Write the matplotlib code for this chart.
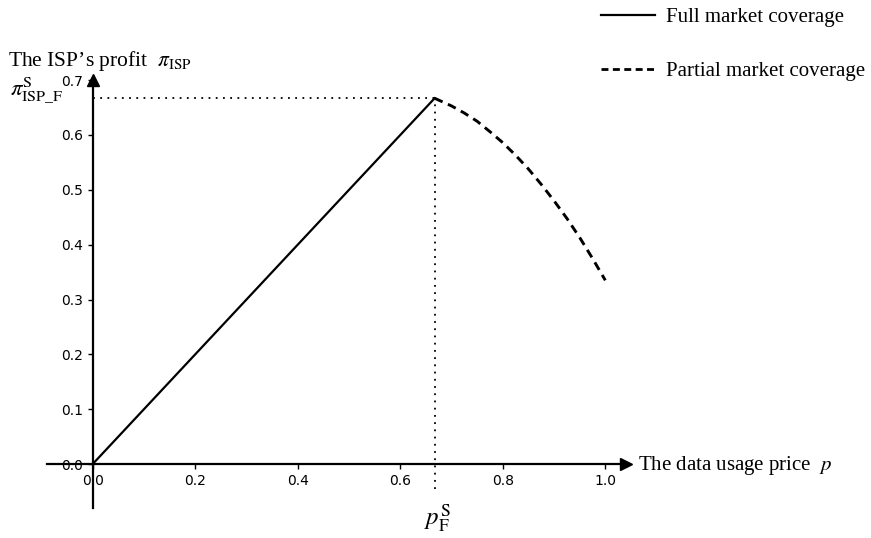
import matplotlib.pyplot as plt
from matplotlib.lines import Line2D

plt.rcParams['mathtext.fontset'] = 'stix'

# full market coverage: profit grows linearly with the price
full_p = [0.0, 0.667]
full_profit = [0.0, 0.667]

# partial market coverage beyond the optimal price
partial_p = [0.667, 0.70, 0.725, 0.75, 0.775, 0.80, 0.825, 0.85,
             0.875, 0.90, 0.925, 0.95, 0.975, 1.00]
partial_profit = [0.667, 0.653, 0.640, 0.625, 0.606, 0.586, 0.563, 0.538,
                  0.510, 0.480, 0.448, 0.413, 0.375, 0.335]

p_opt = 0.667
profit_opt = 0.667

xticks = [0.0, 0.2, 0.4, 0.6, 0.8, 1.0]
yticks = [0.0, 0.1, 0.2, 0.3, 0.4, 0.5, 0.6, 0.7]

serif = 'Liberation Serif'

fig = plt.figure(figsize=(8.71, 5.38), dpi=100)
ax = fig.add_axes([0.0535, 0.056, 0.665, 0.795])

ax.plot(full_p, full_profit, color='black', lw=1.6)
ax.plot(partial_p, partial_profit, color='black', lw=2.1, ls=(0, (3.0, 2.0)))

# guides to the optimum
ax.plot([0, p_opt], [profit_opt, profit_opt], color='black', lw=1.3, ls=(0, (1, 3)))
ax.plot([p_opt, p_opt], [-0.045, profit_opt], color='black', lw=1.3, ls=(0, (1, 3)))

ax.set_xlim(-0.09, 1.04)
ax.set_ylim(-0.08, 0.70)
ax.set_xticks(xticks)
ax.set_yticks(yticks)
ax.tick_params(labelsize=10, width=1, length=3.5)

for side in ['right', 'top']:
    ax.spines[side].set_visible(False)
for side in ['left', 'bottom']:
    ax.spines[side].set_position('zero')
    ax.spines[side].set_linewidth(1.6)

# arrow heads at the axis ends
ax.plot(1, 0, '>k', ms=8, transform=ax.get_yaxis_transform(), clip_on=False)
ax.plot(0, 1, '^k', ms=8, transform=ax.get_xaxis_transform(), clip_on=False)

fig.text(0.009, 0.877, 'The ISP\u2019s profit  $\\pi_{\\mathrm{ISP}}$',
         family=serif, fontsize=15.5, va='baseline')
fig.text(0.011, 0.834, '$\\pi^{\\mathrm{S}}_{\\mathrm{ISP\\_F}}$',
         fontsize=16.5, va='center')
fig.text(0.732, 0.135, 'The data usage price  $p$',
         family=serif, fontsize=15, va='center')
fig.text(0.502, 0.036, '$p^{\\mathrm{S}}_{\\mathrm{F}}$',
         fontsize=18, ha='center', va='center')

handles = [Line2D([], [], color='black', lw=1.6),
           Line2D([], [], color='black', lw=2.0, ls=(0, (2.5, 1.6)))]
fig.legend(handles, ['Full market coverage', 'Partial market coverage'],
           loc='upper right', bbox_to_anchor=(1.003, 1.002), borderaxespad=0.0,
           frameon=False, prop={'family': serif, 'size': 15},
           labelspacing=1.65, handlelength=2.6, handletextpad=0.55)

fig.savefig('out.png', dpi=100)
